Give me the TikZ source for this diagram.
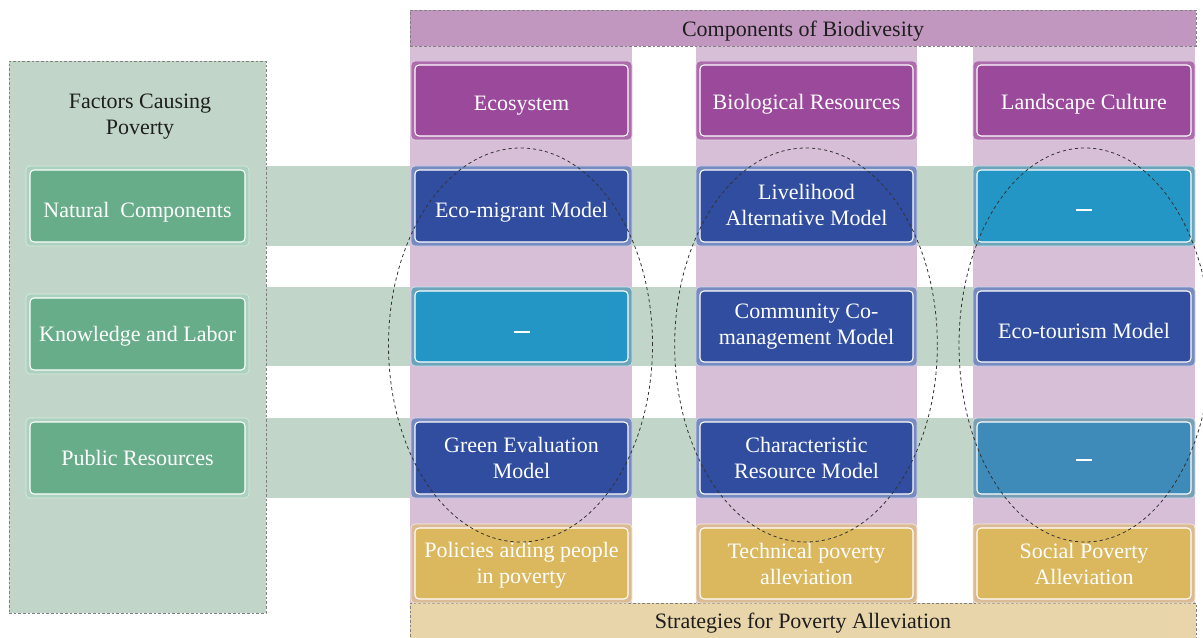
\documentclass[tikz,border=0pt]{standalone}
\usepackage{fontspec}
\setmainfont{Liberation Serif}
\usetikzlibrary{calc}

\definecolor{panelgreen}{HTML}{C1D6C8}
\definecolor{colpink}{HTML}{D8BFD8}
\definecolor{headpurple}{HTML}{C197BF}
\definecolor{headsand}{HTML}{E8D5A9}
\definecolor{boxpurple}{HTML}{9B4A9B}
\definecolor{boxblue}{HTML}{304DA0}
\definecolor{boxcyan}{HTML}{2396C5}
\definecolor{boxsteel}{HTML}{3E8BBA}
\definecolor{boxgreen}{HTML}{68AD8A}
\definecolor{boxyellow}{HTML}{DBB85E}
\definecolor{bordergray}{HTML}{808080}
\definecolor{inkdark}{HTML}{1E1E1E}

% tile: outer frame plus inner box with white hairline
% #1 name, #2 cx, #3 cy, #4 width(px), #5 height(px), #6 colour,
% #7 frame colour, #8 text offset (px), #9 text
\newcommand{\tile}[9]{%
  \node[tileouter, fill=#7, draw=#6!25!white,
        minimum width={#4*0.75pt}, minimum height={#5*0.75pt}] (#1o) at (#2,#3) {};
  \node[tileinner, fill=#6,
        minimum width={(#4-8)*0.75pt}, minimum height={(#5-8)*0.75pt}] (#1) at (#2,#3) {};
  \node[txt, text=white] (#1t) at ($(#1)+(0,#8)$) {#9};
}
\newcommand{\nodash}{\raisebox{0pt}[0pt][0pt]{\rule[-3.5pt]{12pt}{1.6pt}}}

\begin{document}
\begin{tikzpicture}[x=0.75pt,y=-0.75pt,
  txt/.style={font=\fontsize{16.5}{19.5}\selectfont, align=center},
  tileouter/.style={rounded corners=3pt, line width=0.5pt, inner sep=0pt},
  tileinner/.style={rounded corners=3pt, draw=white, line width=0.8pt, inner sep=0pt},
  header/.style={txt, text=inkdark, draw=bordergray, dashed,
                 dash pattern=on 2pt off 1.5pt, line width=0.6pt, inner sep=0pt},
  band/.style={fill=panelgreen},
  column/.style={fill=colpink},
  group/.style={draw=black!80, dash pattern=on 2.4pt off 2.2pt, line width=0.6pt}
]
\useasboundingbox (0,0) rectangle (1203,638);
\clip (0,0) rectangle (1203,638);

% horizontal rows of factors
\fill[band] (266,166) rectangle (1195,246);
\fill[band] (266,287) rectangle (1195,366);
\fill[band] (266,418) rectangle (1195,498);

% biodiversity columns
\fill[column] (410,46) rectangle (632,603);
\fill[column] (696,46) rectangle (917,603);
\fill[column] (973,46) rectangle (1195,603);

% band parts between columns on top
\fill[band] (632,166) rectangle (696,246);
\fill[band] (917,166) rectangle (973,246);
\fill[band] (632,287) rectangle (696,366);
\fill[band] (917,287) rectangle (973,366);
\fill[band] (632,418) rectangle (696,498);
\fill[band] (917,418) rectangle (973,498);

% left panel
\node[header, fill=panelgreen, minimum width={257*0.75pt}, minimum height={552*0.75pt}]
  (factors) at (137.5,337) {};
\node[txt, text=inkdark] (ftitle) at (140,117) {Factors Causing\\Poverty};

% headers
\node[header, fill=headpurple, minimum width={786*0.75pt}, minimum height={36*0.75pt}]
  (comp) at (803,28) {};
\node[txt, text=inkdark] (compt) at (803,31) {Components of Biodivesity};
\node[header, fill=headsand, minimum width={786*0.75pt}, minimum height={35*0.75pt}]
  (strat) at (803,620.5) {};
\node[txt, text=inkdark] (stratt) at (803,623.5) {Strategies for Poverty Alleviation};

% factor boxes
\tile{nat}{137.5}{206}{223}{80}{boxgreen}{boxgreen!55!white}{6}{Natural~~Components}
\tile{know}{137.5}{334}{223}{80}{boxgreen}{boxgreen!55!white}{2}{Knowledge and Labor}
\tile{pub}{137.5}{458}{223}{80}{boxgreen}{boxgreen!55!white}{0}{Public Resources}

% component boxes
\tile{eco}{521.5}{100.5}{221}{79}{boxpurple}{boxpurple!70!colpink}{5}{Ecosystem}
\tile{bio}{806.5}{100.5}{221}{79}{boxpurple}{boxpurple!70!colpink}{4}{Biological Resources}
\tile{land}{1084}{100.5}{222}{79}{boxpurple}{boxpurple!70!colpink}{4}{Landscape Culture}

% models
\tile{ecomig}{521.5}{206}{221}{80}{boxblue}{boxblue!65!white}{6}{Eco-migrant Model}
\tile{liveli}{806.5}{206}{221}{80}{boxblue}{boxblue!65!white}{-1.5}{Livelihood\\Alternative Model}
\tile{landa}{1084}{206}{222}{80}{boxcyan}{boxcyan!60!gray!80!white}{0}{\nodash}

\tile{ecob}{521.5}{326.5}{221}{79}{boxcyan}{boxcyan!60!gray!80!white}{2}{\nodash}
\tile{comm}{806.5}{326.5}{221}{79}{boxblue}{boxblue!65!white}{0.5}{Community Co-\\management Model}
\tile{tour}{1084}{326.5}{222}{79}{boxblue}{boxblue!65!white}{4}{Eco-tourism Model}

\tile{green}{521.5}{458}{221}{80}{boxblue}{boxblue!65!white}{0}{Green Evaluation\\Model}
\tile{charac}{806.5}{458}{221}{80}{boxblue}{boxblue!65!white}{0}{Characteristic\\Resource Model}
\tile{landc}{1084}{458}{222}{80}{boxsteel}{boxsteel!60!gray!80!white}{-1.5}{\nodash}

% strategies
\tile{policy}{521.5}{563.5}{221}{79}{boxyellow}{boxyellow!55!colpink}{1.5}{Policies aiding people\\in poverty}
\tile{techn}{806.5}{563.5}{221}{79}{boxyellow}{boxyellow!55!colpink}{0}{Technical poverty\\alleviation}
\tile{social}{1084}{563.5}{222}{79}{boxyellow}{boxyellow!55!colpink}{0}{Social Poverty\\Alleviation}

% dashed groupings per column
\draw[group] (520.5,345) ellipse [x radius=99pt, y radius=147.75pt];
\draw[group] (806,345) ellipse [x radius=98.5pt, y radius=147.75pt];
\draw[group] (1085,345) ellipse [x radius=94.5pt, y radius=147.75pt];
\end{tikzpicture}
\end{document}
